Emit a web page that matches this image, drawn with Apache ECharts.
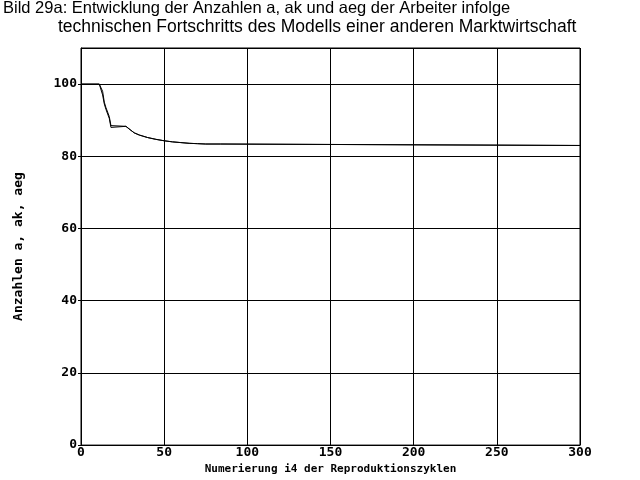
<!DOCTYPE html>
<html><head><meta charset="utf-8">
<script src="https://cdn.jsdelivr.net/npm/echarts@6/dist/echarts.min.js"></script>
<style>html,body{margin:0;padding:0;background:#fff}#c{width:640px;height:480px}</style>
</head><body><div id="c"></div>
<script>
var titleLine1 = "Bild 29a: Entwicklung der Anzahlen a, ak und aeg der Arbeiter infolge";
var titleLine2 = "technischen Fortschritts des Modells einer anderen Marktwirtschaft";
var xAxisName = "Numerierung i4 der Reproduktionszyklen";
var yAxisName = "Anzahlen a, ak, aeg";
var xValues = [0, 11, 12, 13, 14, 15, 16, 17, 18, 19, 27, 28, 30, 32, 35, 40, 45, 50, 55, 60, 65, 70, 75, 84, 85, 300];
var seriesA = [100, 100, 99.5, 97, 94.5, 93, 92.5, 90.5, 88, 88.3, 88.3, 87.8, 87.2, 86.5, 85.9, 85.2, 84.7, 84.3, 84.0, 83.8, 83.6, 83.5, 83.4, 83.4, 83.0, 83.0];
var seriesAk = [100, 100, 100, 98, 95, 93.5, 93, 91, 88.5, 88.3, 88.3, 87.8, 87.2, 86.5, 85.9, 85.2, 84.7, 84.3, 84.0, 83.8, 83.6, 83.5, 83.4, 83.4, 83.0, 83.0];
function pairs(xs, ys){ return xs.map(function(x,i){ return [x, ys[i]]; }); }
var chart = echarts.init(document.getElementById('c'), null, {renderer:'canvas'});
function mono(size){ return {fontFamily: 'DejaVu Sans Mono', fontWeight: 'bold', fontSize: size, color: '#000'}; }
chart.setOption({
  backgroundColor: '#fff',
  animation: false,
  title: [
    {text: titleLine1, left: 3, top: 0, padding: 0, textStyle: {fontFamily: 'Liberation Sans', fontWeight: 'normal', fontSize: 16.5, color: '#000'}},
    {text: titleLine2, left: 58, top: 18, padding: 0, textStyle: {fontFamily: 'Liberation Sans', fontWeight: 'normal', fontSize: 17.5, color: '#000'}}
  ],
  grid: {left: 81, right: 60, top: 48, bottom: 32, show: true, borderColor: '#000', borderWidth: 1},
  xAxis: {
    type: 'value', min: 0, max: 300, interval: 50,
    name: xAxisName, nameLocation: 'middle', nameGap: 10,
    nameTextStyle: mono(11),
    axisLine: {lineStyle: {color: '#000', width: 1}},
    axisTick: {show: false},
    axisLabel: Object.assign({margin: 1}, mono(13)),
    splitLine: {show: true, lineStyle: {color: '#000', width: 1}}
  },
  yAxis: {
    type: 'value', min: 0, max: 110, interval: 20,
    name: yAxisName, nameLocation: 'middle', nameGap: 56, nameRotate: 90,
    nameTextStyle: mono(13),
    axisLine: {show: true, lineStyle: {color: '#000', width: 1}},
    axisTick: {show: true, length: 3, lineStyle: {color: '#000'}},
    axisLabel: Object.assign({margin: 4, showMaxLabel: false}, mono(13)),
    splitLine: {show: true, lineStyle: {color: '#000', width: 1}}
  },
  series: [
    {type: 'line', name: 'a', data: pairs(xValues, seriesA), showSymbol: false, lineStyle: {color: '#000', width: 1}},
    {type: 'line', name: 'ak', data: pairs(xValues, seriesAk), showSymbol: false, lineStyle: {color: '#000', width: 1}}
  ]
});
</script></body></html>
